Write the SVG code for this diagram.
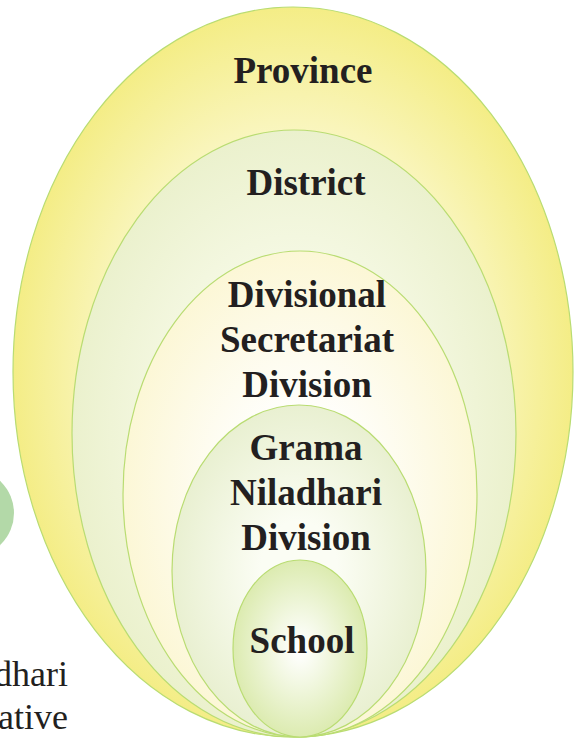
<svg xmlns="http://www.w3.org/2000/svg" width="576" height="738" viewBox="0 0 576 738">
<defs>
<radialGradient id="gProv"><stop offset="0.45" stop-color="#fdfbe2"/><stop offset="1" stop-color="#f4ed86"/></radialGradient>
<radialGradient id="gDist"><stop offset="0.3" stop-color="#fbfdf1"/><stop offset="1" stop-color="#ebf1cd"/></radialGradient>
<radialGradient id="gDiv"><stop offset="0.3" stop-color="#ffffff"/><stop offset="1" stop-color="#fcf7d6"/></radialGradient>
<radialGradient id="gGrama"><stop offset="0.3" stop-color="#fbfdf4"/><stop offset="1" stop-color="#e9f0d1"/></radialGradient>
<radialGradient id="gSchool"><stop offset="0.05" stop-color="#ffffff"/><stop offset="1" stop-color="#dcebb0"/></radialGradient>
</defs>
<style>
.ring{stroke:#b9dc72;stroke-width:1.2}
.lbl{font-family:"Liberation Serif","Times New Roman",Times,serif;font-weight:bold;font-size:37px;fill:#231f20;text-anchor:middle}
.side{font-family:"Liberation Serif","Times New Roman",Times,serif;font-size:36px;fill:#231f20;text-anchor:end}
</style>
<rect width="576" height="738" fill="#ffffff"/>
<circle cx="-30" cy="513" r="44" fill="#b3d9a8"/>
<text class="side" x="68" y="686">dhari</text>
<text class="side" x="68" y="729">ative</text>
<g id="province">
<ellipse class="ring" cx="293" cy="372" rx="280" ry="365" fill="url(#gProv)"/>
<text class="lbl" x="303" y="83">Province</text>
</g>
<g id="district">
<ellipse class="ring" cx="294" cy="433.5" rx="222" ry="303.5" fill="url(#gDist)"/>
<text class="lbl" x="306" y="195">District</text>
</g>
<g id="divisional">
<ellipse class="ring" cx="300" cy="494" rx="177" ry="243" fill="url(#gDiv)"/>
<text class="lbl" x="307" y="307">Divisional</text>
<text class="lbl" x="307" y="352">Secretariat</text>
<text class="lbl" x="307" y="397">Division</text>
</g>
<g id="grama">
<ellipse class="ring" cx="299" cy="571" rx="127" ry="166" fill="url(#gGrama)"/>
<text class="lbl" x="306" y="460">Grama</text>
<text class="lbl" x="306" y="505">Niladhari</text>
<text class="lbl" x="306" y="550">Division</text>
</g>
<g id="school">
<ellipse class="ring" cx="300" cy="648.5" rx="67" ry="88.5" fill="url(#gSchool)"/>
<text class="lbl" x="302" y="653">School</text>
</g>
<g id="connectors"/>
</svg>
